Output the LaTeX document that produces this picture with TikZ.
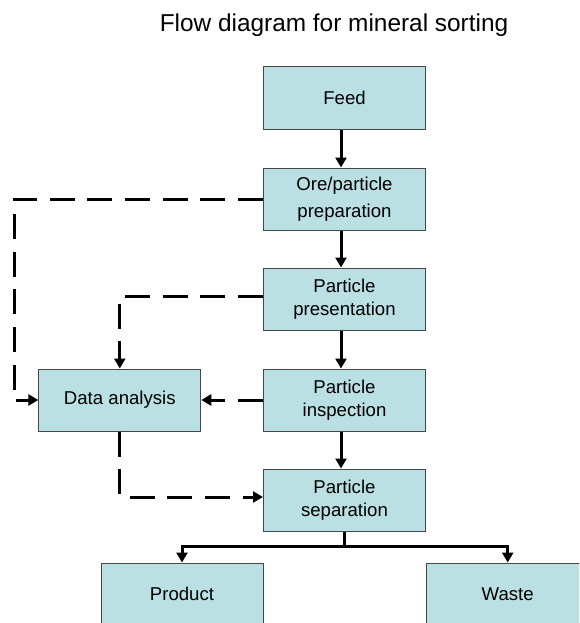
\documentclass[tikz,border=0pt]{standalone}
\usepackage{fontspec}
\setmainfont{Liberation Sans}
\usetikzlibrary{arrows.meta}
\definecolor{boxfill}{RGB}{186,224,228}
\definecolor{boxline}{RGB}{70,70,70}

\begin{document}
\begin{tikzpicture}[x=1pt,y=-1pt,
  stage/.style={draw=boxline, line width=1pt, fill=boxfill,
    minimum width=162pt, minimum height=62pt, inner sep=0pt, align=center,
    font=\fontsize{18.6}{23}\selectfont},
  flow/.style={line width=3pt, -{Triangle[width=11pt,length=10pt]}},
  info/.style={flow, dash pattern=on 25pt off 12.7pt}]
  \useasboundingbox (0,0) rectangle (579,623);
  \clip (0,0) rectangle (579,623);

  % title
  \node[font=\fontsize{24.4}{29}\selectfont, anchor=base, inner sep=0pt]
    (title) at (334,31.5) {Flow diagram for mineral sorting};

  % process stages
  \node[stage] (feed)  at (344.5,98)  {Feed};
  \node[stage] (prep)  at (344.5,199) {Ore/particle\\[4.6pt]preparation};
  \node[stage] (pres)  at (344.5,299) {Particle\\presentation};
  \node[stage] (insp)  at (344.5,400) {Particle\\inspection};
  \node[stage] (sep)   at (344.5,500) {Particle\\separation};
  \node[stage] (data)  at (119.8,400) {Data analysis};
  \node[stage] (prod)  at (182,594)   {Product};
  \node[stage] (waste) at (507.7,594) {Waste};

  % helper coordinates
  \coordinate (spine) at (341,0);
  \coordinate (loop)  at (14,0);
  \coordinate (bus)   at (0,546.7);

  % main material flow
  \draw[flow] (feed.south -| spine) -- (prep.north -| spine);
  \draw[flow] (prep.south -| spine) -- (pres.north -| spine);
  \draw[flow] (pres.south -| spine) -- (insp.north -| spine);
  \draw[flow] (insp.south -| spine) -- (sep.north -| spine);
  \draw[line width=3pt] (sep.south) -- (sep.south |- bus);
  \draw[flow] (sep.south |- bus) -| (prod.north);
  \draw[flow] (sep.south |- bus) -| (waste.north);

  % information flow
  \draw[info] (prep.west) -- (prep.west -| loop) -- (data.west -| loop) -- (data.west);
  \draw[info] ([yshift=3pt]pres.west) -| (data.north);
  \draw[info] (insp.west) -- (data.east);
  \draw[info] (data.south) |- ([yshift=3pt]sep.west);
\end{tikzpicture}
\end{document}
